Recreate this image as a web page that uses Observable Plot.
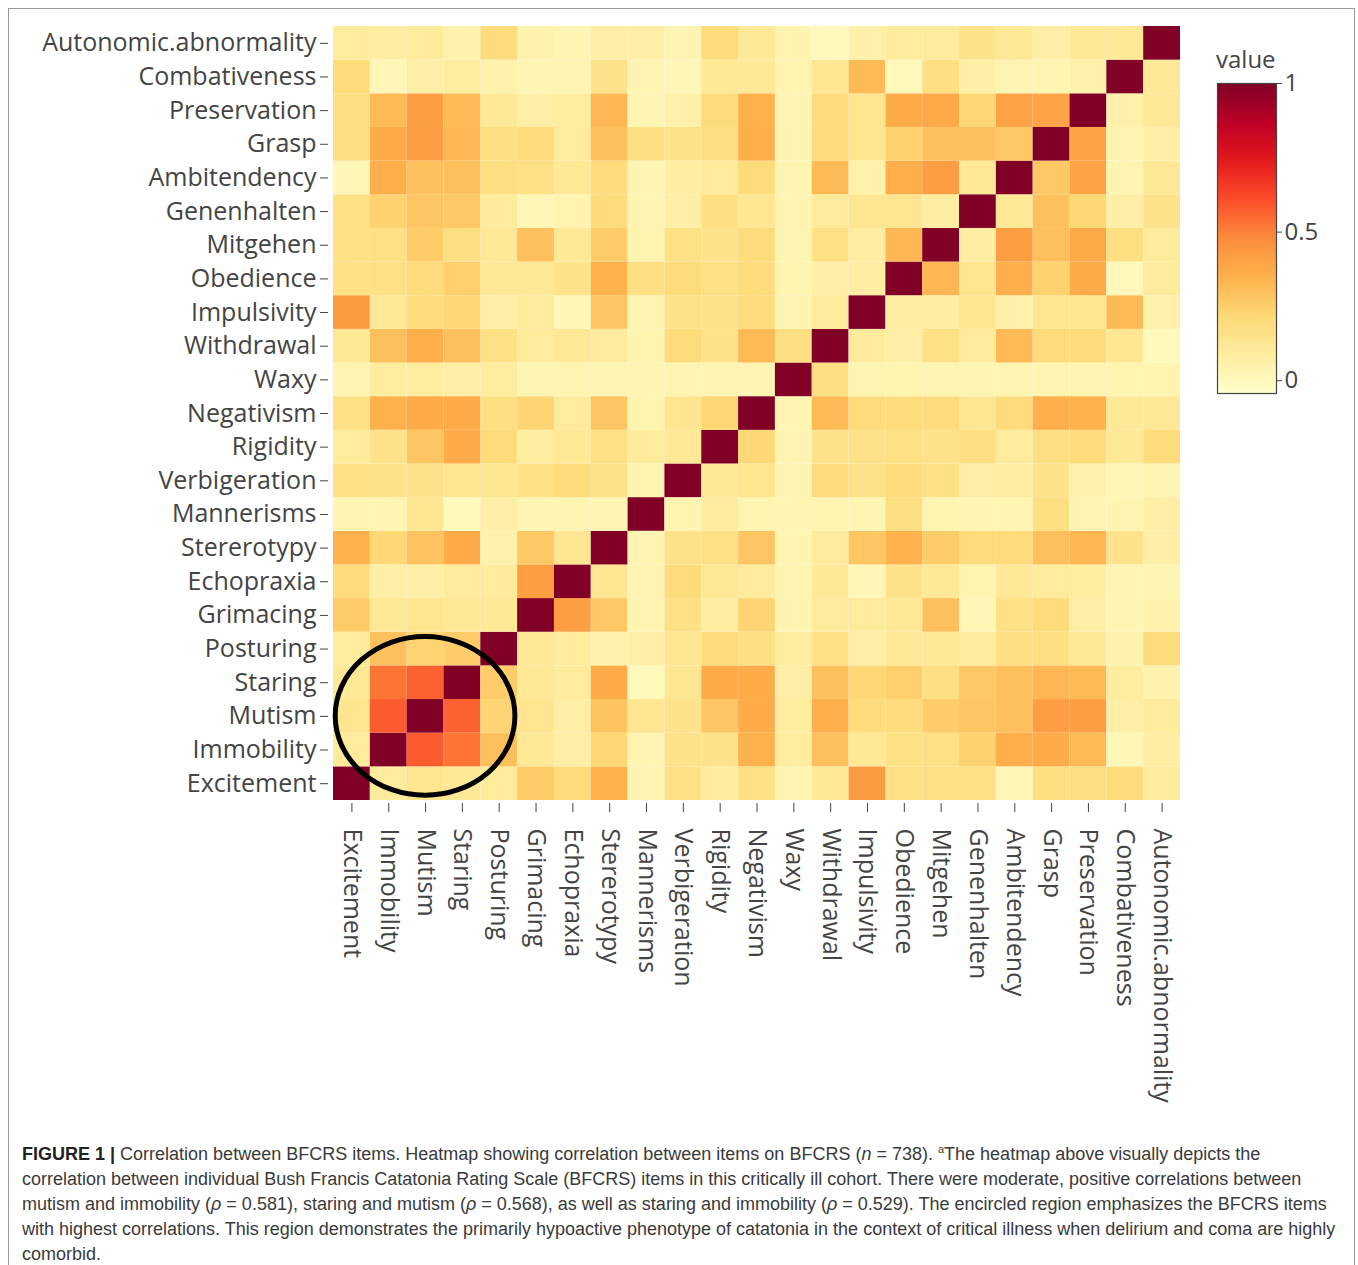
<!DOCTYPE html>
<html>
<head>
<meta charset="utf-8">
<script src="https://cdn.jsdelivr.net/npm/d3@7"></script>
<script src="https://cdn.jsdelivr.net/npm/@observablehq/plot@0.6"></script>
<style>
  html, body { margin: 0; padding: 0; background: #fff; }
  body { width: 1358px; height: 1265px; position: relative; overflow: hidden; }
  #frame { position: absolute; left: 8px; top: 8px; width: 1347px; height: 1300px; border: 1px solid #9a9a9a; box-sizing: border-box; }
  #chart { position: absolute; left: 0; top: 0; }
  #bar { position: absolute; left: 1190px; top: 60px; }
  #bartitle { position: absolute; left: 1216px; top: 44px; font-family: "Open Sans", sans-serif; font-size: 24px; color: #444; line-height: 30px; }
  #caption { position: absolute; left: 22px; top: 1137px; font-family: "Liberation Sans Narrow", "Liberation Sans", Arial, sans-serif; font-size: 18px; line-height: 25px; color: #3a3a3a; white-space: nowrap; }
  #caption b { color: #222; }
</style>
</head>
<body>
<div id="frame"></div>
<div id="chart"></div>
<div id="bartitle">value</div>
<div id="bar"></div>
<div id="caption">
<div><b>FIGURE 1 |</b> Correlation between BFCRS items. Heatmap showing correlation between items on BFCRS (<i>n</i> = 738). <sup style="font-size:11px">a</sup>The heatmap above visually depicts the</div>
<div>correlation between individual Bush Francis Catatonia Rating Scale (BFCRS) items in this critically ill cohort. There were moderate, positive correlations between</div>
<div>mutism and immobility (<i>ρ</i> = 0.581), staring and mutism (<i>ρ</i> = 0.568), as well as staring and immobility (<i>ρ</i> = 0.529). The encircled region emphasizes the BFCRS items</div>
<div>with highest correlations. This region demonstrates the primarily hypoactive phenotype of catatonia in the context of critical illness when delirium and coma are highly</div>
<div>comorbid.</div>
</div>
<script>
// Items (x order left→right, y order bottom→top)
const items = ["Excitement","Immobility","Mutism","Staring","Posturing","Grimacing","Echopraxia","Stererotypy","Mannerisms","Verbigeration","Rigidity","Negativism","Waxy","Withdrawal","Impulsivity","Obedience","Mitgehen","Genenhalten","Ambitendency","Grasp","Preservation","Combativeness","Autonomic.abnormality"];

// Lower-triangle correlations: row i lists r(items[i], items[j]) for j < i
const rImmobility    = [0.10];
const rMutism        = [0.14, 0.581];
const rStaring       = [0.12, 0.529, 0.568];
const rPosturing     = [0.10, 0.30, 0.23, 0.26];
const rGrimacing     = [0.26, 0.12, 0.14, 0.12, 0.12];
const rEchopraxia    = [0.20, 0.07, 0.07, 0.10, 0.10, 0.42];
const rStererotypy   = [0.35, 0.22, 0.29, 0.37, 0.05, 0.27, 0.13];
const rMannerisms    = [0.03, 0.03, 0.13, 0.00, 0.07, 0.03, 0.03, 0.03];
const rVerbigeration = [0.17, 0.15, 0.15, 0.13, 0.13, 0.17, 0.20, 0.16, 0.04];
const rRigidity      = [0.10, 0.15, 0.28, 0.37, 0.20, 0.08, 0.12, 0.17, 0.10, 0.12];
const rNegativism    = [0.17, 0.35, 0.37, 0.37, 0.18, 0.23, 0.10, 0.28, 0.04, 0.14, 0.22];
const rWaxy          = [0.03, 0.09, 0.09, 0.07, 0.09, 0.03, 0.03, 0.03, 0.03, 0.03, 0.03, 0.03];
const rWithdrawal    = [0.12, 0.30, 0.36, 0.30, 0.17, 0.10, 0.12, 0.10, 0.04, 0.20, 0.15, 0.32, 0.18];
const rImpulsivity   = [0.43, 0.12, 0.20, 0.22, 0.07, 0.10, 0.02, 0.28, 0.03, 0.16, 0.16, 0.20, 0.03, 0.10];
const rObedience     = [0.17, 0.17, 0.20, 0.25, 0.12, 0.12, 0.15, 0.35, 0.18, 0.20, 0.17, 0.20, 0.04, 0.07, 0.08];
const rMitgehen      = [0.17, 0.17, 0.26, 0.18, 0.12, 0.30, 0.12, 0.26, 0.04, 0.17, 0.15, 0.20, 0.03, 0.17, 0.08, 0.33];
const rGenenhalten   = [0.17, 0.24, 0.28, 0.27, 0.10, 0.02, 0.04, 0.20, 0.03, 0.07, 0.18, 0.13, 0.03, 0.10, 0.13, 0.14, 0.08];
const rAmbitendency  = [0.02, 0.36, 0.30, 0.30, 0.18, 0.17, 0.12, 0.20, 0.03, 0.08, 0.10, 0.20, 0.03, 0.32, 0.06, 0.36, 0.42, 0.12];
const rGrasp         = [0.18, 0.37, 0.42, 0.33, 0.18, 0.20, 0.10, 0.30, 0.18, 0.15, 0.18, 0.36, 0.03, 0.20, 0.14, 0.24, 0.30, 0.30, 0.27];
const rPreservation  = [0.18, 0.32, 0.42, 0.32, 0.12, 0.07, 0.09, 0.33, 0.03, 0.06, 0.20, 0.35, 0.03, 0.20, 0.14, 0.37, 0.38, 0.22, 0.40, 0.40];
const rCombativeness = [0.20, 0.02, 0.07, 0.09, 0.05, 0.03, 0.03, 0.15, 0.03, 0.02, 0.12, 0.12, 0.04, 0.13, 0.32, 0.01, 0.18, 0.07, 0.03, 0.03, 0.06];
const rAutonomic     = [0.10, 0.08, 0.10, 0.05, 0.20, 0.05, 0.03, 0.07, 0.07, 0.03, 0.20, 0.12, 0.04, 0.00, 0.06, 0.10, 0.10, 0.15, 0.12, 0.07, 0.12, 0.12];

const lowerRows = [[], rImmobility, rMutism, rStaring, rPosturing, rGrimacing, rEchopraxia, rStererotypy, rMannerisms, rVerbigeration, rRigidity, rNegativism, rWaxy, rWithdrawal, rImpulsivity, rObedience, rMitgehen, rGenenhalten, rAmbitendency, rGrasp, rPreservation, rCombativeness, rAutonomic];

// Colour scale (Plotly YlOrRd), value range of the colourbar
const colorDomain = [-0.043, 0.0874, 0.2178, 0.3483, 0.4785, 0.6089, 0.7393, 0.8696, 1.0];
const colorRange  = ["rgb(255,255,204)","rgb(255,237,160)","rgb(254,217,118)","rgb(254,178,76)","rgb(253,141,60)","rgb(252,78,42)","rgb(227,26,28)","rgb(189,0,38)","rgb(128,0,38)"];
const barTicks = [0, 0.5, 1];

// Build symmetric matrix table
const cells = [];
items.forEach((a, i) => {
  items.forEach((b, j) => {
    let v;
    if (i === j) v = 1;
    else if (j < i) v = lowerRows[i][j];
    else v = lowerRows[j][i];
    cells.push({x: b, y: a, v});
  });
});

const colorOpts = {type: "linear", domain: colorDomain, range: colorRange, interpolate: "rgb", clamp: true};

// Ellipse highlighting Immobility/Mutism/Staring, centred on the Mutism×Mutism cell
function ellipseMark(index, scales, values, dimensions, context) {
  const x = scales.x, y = scales.y;
  const bw = x(items[1]) - x(items[0]);
  const bh = y(items[0]) - y(items[1]);
  const cx = x("Mutism") + bw / 2;
  const cy = y("Mutism") + bh / 2;
  const g = d3.create("svg:g");
  g.append("ellipse")
    .attr("cx", cx).attr("cy", cy)
    .attr("rx", bw * 2.44).attr("ry", bh * 2.36)
    .attr("fill", "none").attr("stroke", "#000").attr("stroke-width", 5);
  return g.node();
}

const chart = Plot.plot({
  width: 1358,
  height: 1110,
  marginLeft: 333,
  marginRight: 178,
  marginTop: 26,
  marginBottom: 310,
  style: {fontFamily: "Open Sans, sans-serif", fontSize: "25px", color: "#444", background: "transparent"},
  x: {domain: items, padding: 0, round: false, label: null},
  y: {domain: items.slice().reverse(), padding: 0, round: false, label: null},
  color: colorOpts,
  marks: [
    Plot.cell(cells, {x: "x", y: "y", fill: "v", inset: 0}),
    Plot.axisY({tickSize: 8, tickPadding: 4, dx: -5, fontSize: 25, stroke: "#444"}),
    Plot.axisX({tickSize: 9, tickPadding: 16, dy: 3, tickRotate: 90, fontSize: 25, stroke: "#444"}),
    ellipseMark
  ]
});
document.getElementById("chart").appendChild(chart);

const bar = Plot.plot({
  width: 160,
  height: 360,
  marginLeft: 27,
  marginRight: 74,
  marginTop: 23,
  marginBottom: 27,
  style: {fontFamily: "Open Sans, sans-serif", fontSize: "24px", color: "#444", background: "transparent"},
  x: {domain: [0, 1], axis: null},
  y: {domain: [colorDomain[0], 1], axis: null},
  color: colorOpts,
  marks: [
    Plot.raster({x1: 0, x2: 1, y1: colorDomain[0], y2: 1, width: 2, height: 400, fill: (px, py) => py}),
    Plot.frame({stroke: "#444", strokeWidth: 1.2}),
    Plot.axisY({anchor: "right", ticks: barTicks, tickFormat: d => `${d}`, tickSize: 5, tickPadding: 3, fontSize: 24, stroke: "#444"})
  ]
});
document.getElementById("bar").appendChild(bar);
</script>
</body>
</html>
